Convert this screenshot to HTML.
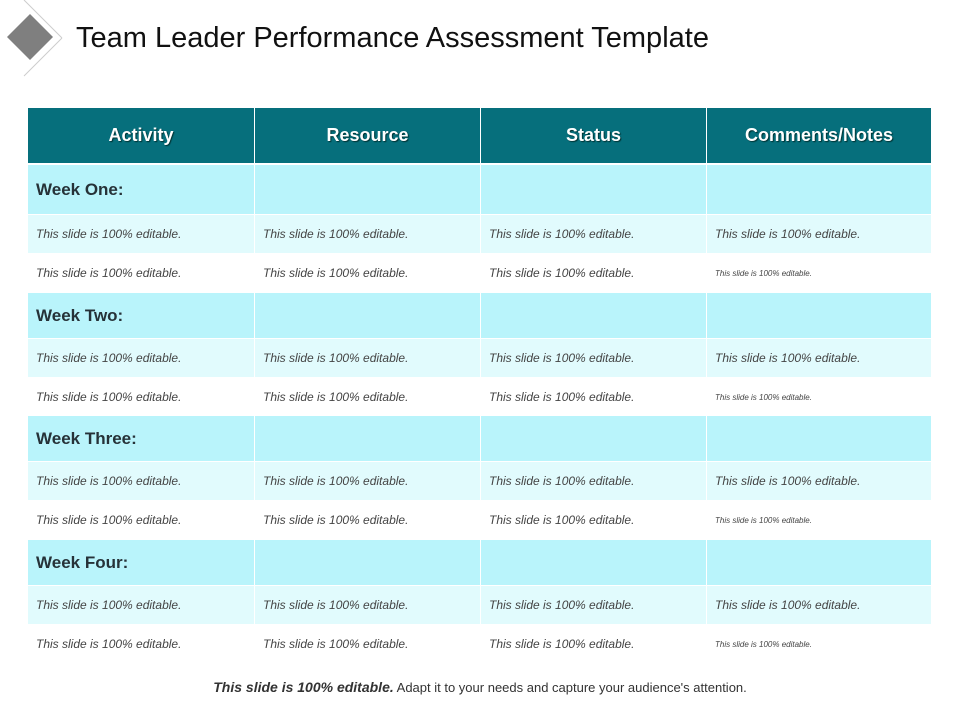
<!DOCTYPE html>
<html><head><meta charset="utf-8"><style>
body{margin:0;width:960px;height:720px;background:#fff;position:relative;font-family:"Liberation Sans",Arial,sans-serif;overflow:hidden}
.abs{position:absolute}
#title{left:76px;top:22px;font-size:29px;color:#111;white-space:nowrap}
.cell{position:absolute;box-sizing:border-box;display:flex;align-items:center;padding-left:8px;white-space:nowrap}
.hd{background:#066f7c;color:#fff;font-weight:bold;font-size:18px;justify-content:center;padding:0;text-shadow:1px 1px 1px #033}
.wk{background:#b9f4fb;color:#263238;font-weight:bold;font-size:17px}
.r1{background:#e1fbfd;color:#444;font-style:italic;font-size:12px}
.r2{background:#fff;color:#444;font-style:italic;font-size:12px}
.sm{font-size:8px}
#foot{left:0;width:960px;top:679px;text-align:center;font-size:13px;color:#333}
</style></head><body>
<svg class="abs" style="left:0;top:0" width="80" height="80">
<line x1="24" y1="0" x2="62" y2="38" stroke="#ccc" stroke-width="1"/>
<line x1="62" y1="38" x2="24" y2="76" stroke="#ccc" stroke-width="1"/>
<polygon points="30,14 53,37 30,60 7,37" fill="#7f7f7f"/>
</svg>
<div id="title" class="abs">Team Leader Performance Assessment Template</div>
<div id="tbl"></div>
<div id="foot" class="abs"><b><i style="font-size:14px">This slide is 100% editable.</i></b> Adapt it to your needs and capture your audience's attention.</div>
<script>
const cols=[28,255,481,707,932];
const heads=["Activity","Resource","Status","Comments/Notes"];
const weeks=["Week One:","Week Two:","Week Three:","Week Four:"];
const txt="This slide is 100% editable.";
const tbl=document.getElementById('tbl');
function cell(cls,x0,x1,y0,y1,t,name){
 const d=document.createElement('div');
 d.className='cell '+cls;
 d.style.left=x0+'px';d.style.width=(x1-x0-1)+'px';d.style.top=y0+'px';d.style.height=(y1-y0-1)+'px';
 d.textContent=t;
 
 
 tbl.appendChild(d);
}
for(let c=0;c<4;c++)cell('hd',cols[c],cols[c+1],108,164,heads[c],'header-cell');
const starts=[165,293,416,540];
weeks.forEach((w,i)=>{
 const y=starts[i];
 for(let c=0;c<4;c++){
  cell('wk',cols[c],cols[c+1],y,y+(i==0?50:46),c==0?w:'','week-row-cell');
  const a=y+(i==0?50:46);
  cell('r1',cols[c],cols[c+1],a,a+39,txt,'body-cell');
  cell('r2'+(c==3?' sm':''),cols[c],cols[c+1],a+39,a+78,txt,'body-cell');
 }
});
</script>
</body></html>
